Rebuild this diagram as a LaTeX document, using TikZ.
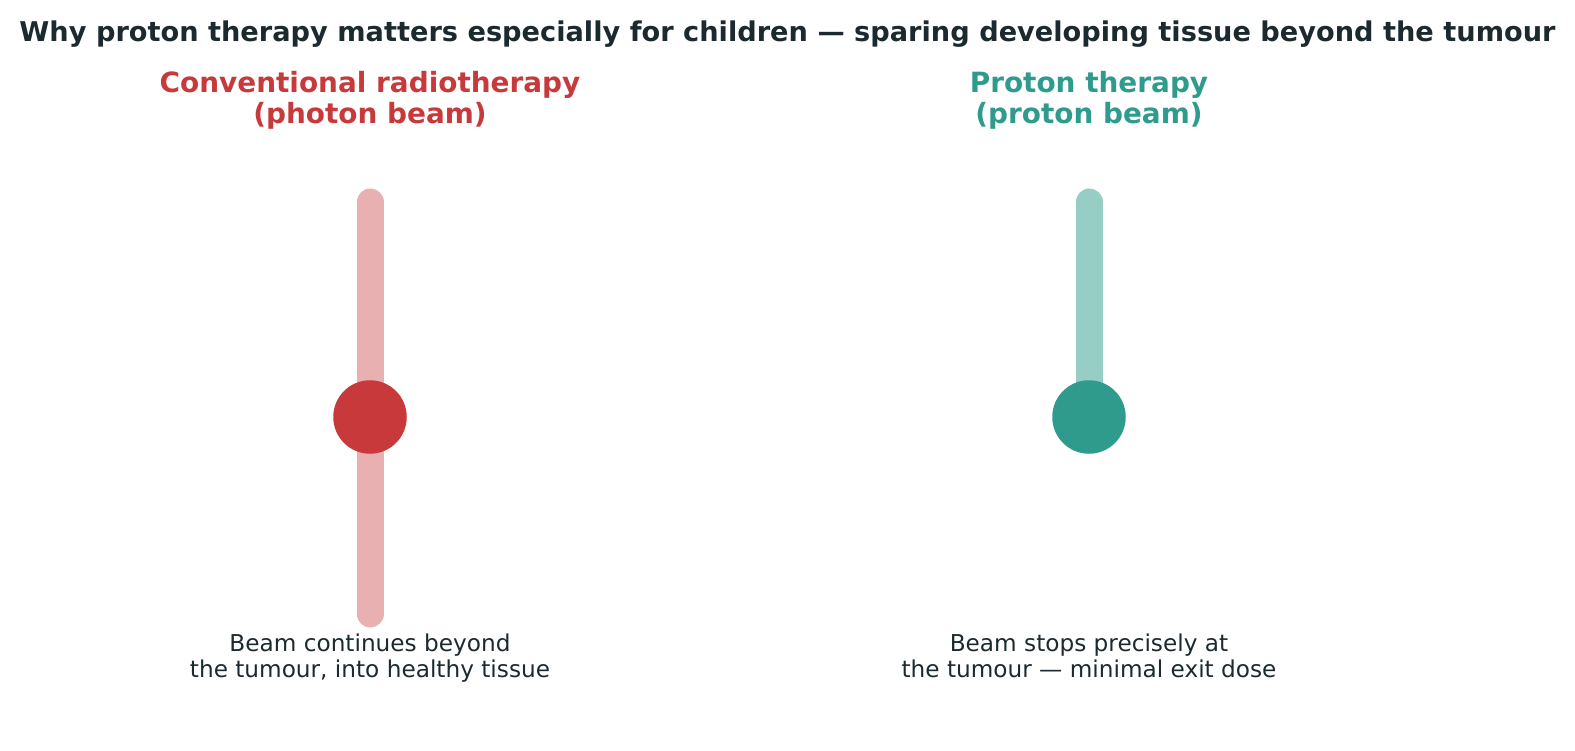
\documentclass[tikz,border=0pt]{standalone}
\usepackage{fontspec}
\setmainfont{DejaVu Sans}
\definecolor{ink}{HTML}{1C2A30}
\definecolor{redc}{HTML}{C8393B}
\definecolor{redl}{HTML}{E8B0B1}
\definecolor{teal}{HTML}{2E9B8C}
\definecolor{teall}{HTML}{96CDC5}
\tikzset{
  titletext/.style={font=\fontsize{27.2}{31}\selectfont\bfseries, text=ink, inner sep=0pt},
  headtext/.style={font=\fontsize{27.9}{31.3}\selectfont\bfseries, align=center, inner sep=0pt},
  captext/.style={font=\fontsize{23.2}{26.2}\selectfont, text=ink, align=center, inner sep=0pt},
  beam/.style={line width=27pt, line cap=round},
  tumour/.style={circle, minimum size=73.5pt, inner sep=0pt}
}
\begin{document}
\begin{tikzpicture}[x=1pt,y=-1pt]
\useasboundingbox (0,0) rectangle (1575,751);
\node[titletext] (title) at (787.5,34.5) {Why proton therapy matters especially for children — sparing developing tissue beyond the tumour};
\node[headtext, text=redc] (hl) at (370,101.5) {Conventional radiotherapy\strut\\(photon beam)\strut};
\node[headtext, text=teal] (hr) at (1089,101.5) {Proton therapy\strut\\(proton beam)\strut};
% left beam
\coordinate (lt) at (370,202);
\coordinate (lb) at (370,614);
\draw[beam, redl] (lt) -- (lb);
\node[tumour, fill=redc] (tl) at (370,417) {};
% right beam
\coordinate (rt) at (1089,202);
\coordinate (rc) at (1089,417);
\draw[beam, teall] (rt) -- (rc);
\node[tumour, fill=teal] (tr) at (rc) {};
\node[captext] (cl) at (370,659) {Beam continues beyond\strut\\the tumour, into healthy tissue\strut};
\node[captext] (cr) at (1089,659) {Beam stops precisely at\strut\\the tumour — minimal exit dose\strut};
\end{tikzpicture}
\end{document}
